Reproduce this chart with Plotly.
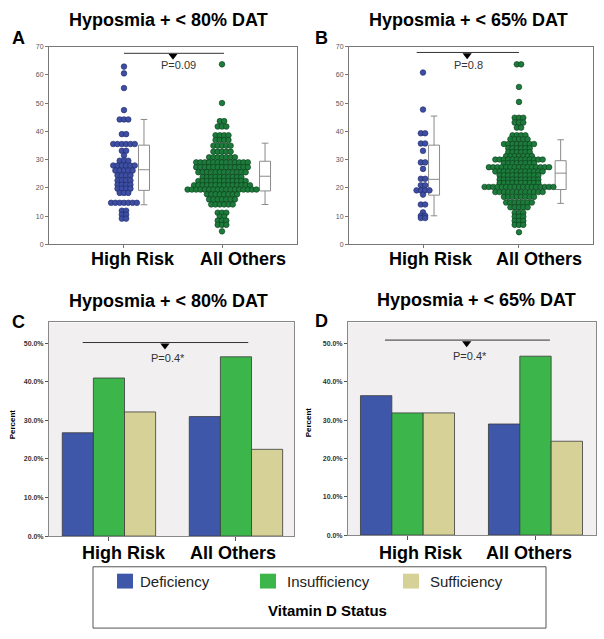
import plotly.graph_objects as go

W, H = 604, 639
FONT = "Liberation Sans, Arial, sans-serif"

# ---------------- data ----------------
groups = ["High Risk", "All Others"]
titles = ["Hyposmia + < 80% DAT", "Hyposmia + < 65% DAT"]
panel_letters = ["A", "B", "C", "D"]
p_texts = ["P=0.09", "P=0.8", "P=0.4*", "P=0.4*"]

# Panel A dot rows (value level, number of dots at that level)
a_hr_levels = [62.9, 60.5, 55.3, 47.5, 44.2, 39.0, 35.5, 33.1, 31.4, 29.6, 27.9, 26.1, 24.4,
               22.6, 21.1, 19.7, 18.2, 14.7, 11.9, 10.5, 9.1]
a_hr_counts = [1, 1, 1, 1, 3, 2, 6, 2, 1, 3, 6, 5, 4, 4, 4, 4, 3, 7, 2, 2, 2]
a_ao_levels = [63.7, 50.0, 43.6, 41.7, 38.6, 36.9, 34.9, 32.8, 30.8, 29.0, 27.3, 25.5, 23.8,
               22.4, 20.9, 19.4, 17.7, 15.9, 14.1, 11.2, 9.8, 8.4, 6.9, 4.6]
a_ao_counts = [1, 1, 2, 3, 4, 4, 5, 5, 7, 13, 13, 12, 10, 12, 14, 17, 8, 7, 6, 3, 2, 3, 3, 1]

# Panel B dot rows
b_hr_levels = [60.8, 47.7, 39.3, 35.7, 33.1, 29.0, 26.7, 23.2, 20.9, 19.1, 17.6, 14.1, 11.3,
               10.1, 9.3]
b_hr_counts = [1, 1, 2, 2, 1, 2, 1, 2, 2, 4, 1, 2, 1, 2, 2]
b_ao_levels = [63.7, 55.7, 50.4, 44.8, 43.1, 41.3, 38.6, 37.2, 35.5, 34.0, 32.6, 31.2, 30.0,
               28.7, 27.3, 25.8, 24.4, 22.9, 21.7, 20.3, 18.5, 16.8, 14.8, 13.1, 11.2, 9.8,
               8.3, 6.9, 4.3]
b_ao_counts = [2, 1, 1, 3, 3, 2, 4, 5, 8, 6, 6, 7, 12, 8, 15, 12, 10, 10, 10, 17, 12, 8, 7, 5,
               3, 3, 3, 3, 1]

# Box plot summaries [High Risk, All Others]
a_box_q1 = [19.1, 18.9]
a_box_med = [26.4, 24.1]
a_box_q3 = [35.1, 29.4]
a_box_lo = [14.0, 14.1]
a_box_hi = [44.2, 35.8]
b_box_q1 = [17.4, 19.4]
b_box_med = [23.0, 25.2]
b_box_q3 = [35.1, 29.6]
b_box_lo = [10.1, 14.5]
b_box_hi = [45.4, 37.0]

# Bar panels (percent) [High Risk, All Others]
status = ["Deficiency", "Insufficiency", "Sufficiency"]
c_def = [26.8, 31.0]
c_ins = [41.0, 46.5]
c_suf = [32.2, 22.5]
d_def = [36.4, 29.0]
d_ins = [31.9, 46.7]
d_suf = [31.9, 24.5]

bar_ticks = [0, 10, 20, 30, 40, 50]
bar_ticktext = ["0.0%", "10.0%", "20.0%", "30.0%", "40.0%", "50.0%"]

# ---------------- styles ----------------
BLUE_DOT, BLUE_EDGE = "#3e4fa3", "#1c2766"
GREEN_DOT, GREEN_EDGE = "#1d7b3c", "#0b3a1a"
BAR_COLORS = ["#3f57a8", "#3cb54b", "#d6d197"]


def px(x):
    return x / W


def py(y):
    return 1 - y / H


def swarm(levels, counts, center, dx):
    xs, ys = [], []
    for v, n in zip(levels, counts):
        for i in range(n):
            xs.append(center + (i - (n - 1) / 2) * dx)
            ys.append(v)
    return xs, ys


fig = go.Figure()

# ---------- dot panels ----------
dot_panels = [
    dict(ax="", hr=(a_hr_levels, a_hr_counts), ao=(a_ao_levels, a_ao_counts),
         ppu=98.0, boxx=[1.204, 2.439],
         box=(a_box_q1, a_box_med, a_box_q3, a_box_lo, a_box_hi)),
    dict(ax="2", hr=(b_hr_levels, b_hr_counts), ao=(b_ao_levels, b_ao_counts),
         ppu=96.0, boxx=[1.115, 2.434],
         box=(b_box_q1, b_box_med, b_box_q3, b_box_lo, b_box_hi)),
]
for p in dot_panels:
    dx = 4.3 / p["ppu"]
    for (lv, ct), c, fc, ec in [(p["hr"], 1, BLUE_DOT, BLUE_EDGE), (p["ao"], 2, GREEN_DOT, GREEN_EDGE)]:
        xs, ys = swarm(lv, ct, c, dx)
        fig.add_trace(go.Scatter(x=xs, y=ys, mode="markers", showlegend=False,
                                 marker=dict(size=5.6, color=fc, line=dict(color=ec, width=0.6)),
                                 xaxis="x" + p["ax"], yaxis="y" + p["ax"], hoverinfo="skip"))
    q1, med, q3, lo, hi = p["box"]
    for i in range(2):
        fig.add_trace(go.Box(x=[p["boxx"][i]], q1=[q1[i]], median=[med[i]], q3=[q3[i]],
                             lowerfence=[lo[i]], upperfence=[hi[i]], width=11 / p["ppu"],
                             whiskerwidth=0.6, fillcolor="white", boxpoints=False,
                             line=dict(color="#8a8a8a", width=1), showlegend=False,
                             xaxis="x" + p["ax"], yaxis="y" + p["ax"], hoverinfo="skip"))

# ---------- bar panels ----------
for ax, vals in [("3", (c_def, c_ins, c_suf)), ("4", (d_def, d_ins, d_suf))]:
    for name, v, col in zip(status, vals, BAR_COLORS):
        fig.add_trace(go.Bar(x=[0, 1], y=v, name=name, marker=dict(color=col, line=dict(color="#3a3a3a", width=0.8)),
                             showlegend=False, xaxis="x" + ax, yaxis="y" + ax, hoverinfo="skip"))

# ---------- significance markers ----------
sig = [("", 66.7, 1.5), ("2", 66.9, 1.46), ("3", 49.4, 0.441), ("4", 50.1, 0.4625)]
for ax, yv, xv in sig:
    fig.add_trace(go.Scatter(x=[xv], y=[yv], mode="markers", showlegend=False,
                             marker=dict(symbol="triangle-down", size=8, color="black"),
                             xaxis="x" + ax, yaxis="y" + ax, hoverinfo="skip"))

shapes = []
sig_lines = [("x", "y", 1.0, 2.02, 67.6), ("x2", "y2", 0.934, 2.0, 67.9),
             ("x3", "y3", -0.207, 1.097, 50.2), ("x4", "y4", -0.176, 1.113, 50.9)]
for xr, yr, x0, x1, yv in sig_lines:
    shapes.append(dict(type="line", xref=xr, yref=yr, x0=x0, x1=x1, y0=yv, y1=yv,
                       line=dict(color="#333", width=1)))

# bar panel backgrounds
for ax in ["3", "4"]:
    shapes.append(dict(type="rect", xref="x%s domain" % ax, yref="y%s domain" % ax,
                       x0=0, x1=1, y0=0, y1=1, fillcolor="#f1efef", line=dict(width=0),
                       layer="below"))

# legend box + swatches
shapes.append(dict(type="rect", xref="paper", yref="paper", x0=px(93), x1=px(546),
                   y0=py(631), y1=py(569), line=dict(color="#555", width=1), fillcolor="white"))
for x0, col in zip([117, 260, 403], BAR_COLORS):
    shapes.append(dict(type="rect", xref="paper", yref="paper", x0=px(x0), x1=px(x0 + 16),
                       y0=py(591), y1=py(576), line=dict(width=0), fillcolor=col))

ann = []


def text(x, y, s, size, bold=False, xanchor="center", color="black", angle=0):
    ann.append(dict(x=px(x), y=py(y), xref="paper", yref="paper", text=s, showarrow=False,
                    xanchor=xanchor, yanchor="middle", textangle=angle,
                    font=dict(family=FONT, size=size, color=color,
                              weight="bold" if bold else "normal")))


# titles
text(168, 16, titles[0], 18, True)
text(468, 16, titles[1], 18, True)
text(168, 300, titles[0], 18, True)
text(476, 299, titles[1], 18, True)
# panel letters
for (x, y), s in zip([(18, 34), (322, 34), (18, 322), (321, 321)], panel_letters):
    text(x, y, s, 18, True)
# category labels
for (x, y), s in zip([(133, 258), (243, 258), (431, 258), (539, 258),
                      (124, 555), (233, 555), (421, 555), (529, 555)], groups * 4):
    text(x, y, s, 18, True)
# p values
for (x, y), s in zip([(178, 62), (468, 62), (168, 358), (470, 356)], p_texts):
    text(x, y, s, 11, False, color="#333")
# Percent titles
text(12, 425, "Percent", 8, True, angle=-90)
text(308, 423, "Percent", 8, True, angle=-90)
# legend texts
for x, s in zip([138, 285, 428], status):
    text(x, 583.5, s, 15, False, xanchor="left", color="#222")
text(327, 613, "Vitamin D Status", 15, True)

dot_y = dict(range=[0, 70], dtick=10, ticks="outside", ticklen=3, tickcolor="#777",
             tickfont=dict(family=FONT, size=7, color="#555"), showgrid=False, zeroline=False,
             showline=True, linecolor="#777", mirror=True, linewidth=1)
dot_x = dict(tickvals=[1, 2], showticklabels=False, ticks="outside", ticklen=3, tickcolor="#777",
             showgrid=False, zeroline=False, showline=True, linecolor="#777", mirror=True)
bar_y = dict(tickvals=bar_ticks, ticktext=bar_ticktext, ticks="outside", ticklen=3, tickcolor="#555",
             tickfont=dict(family=FONT, size=7, color="#333", weight="bold"), showgrid=False,
             zeroline=False, showline=True, linecolor="#888", mirror=True, linewidth=1)
bar_x = dict(tickvals=[0, 1], showticklabels=False, ticks="outside", ticklen=4, tickcolor="#555",
             showgrid=False, zeroline=False, showline=True, linecolor="#888", mirror=True)

fig.update_layout(
    width=W, height=H, margin=dict(l=0, r=0, t=0, b=0),
    paper_bgcolor="white", plot_bgcolor="rgba(0,0,0,0)",
    barmode="group", bargap=0.265, bargroupgap=0,
    showlegend=False,
    xaxis=dict(domain=[px(49), px(297)], range=[0.235, 2.765], anchor="y", **dot_x),
    yaxis=dict(domain=[py(243), py(43)], anchor="x", **dot_y),
    xaxis2=dict(domain=[px(349), px(593)], range=[0.229, 2.771], anchor="y2", **dot_x),
    yaxis2=dict(domain=[py(243), py(43)], anchor="x2", **dot_y),
    xaxis3=dict(domain=[px(49), px(294)], range=[-0.472, 1.457], anchor="y3", **bar_x),
    yaxis3=dict(domain=[py(538), py(322)], range=[0, 55.4], anchor="x3", **bar_y),
    xaxis4=dict(domain=[px(348), px(596)], range=[-0.465, 1.473], anchor="y4", **bar_x),
    yaxis4=dict(domain=[py(537), py(322)], range=[0, 55.5], anchor="x4", **bar_y),
    shapes=shapes, annotations=ann,
)

fig.write_html("out.html", config={"displayModeBar": False},
               post_script="document.body.style.margin='0';document.body.style.overflow='hidden';")
